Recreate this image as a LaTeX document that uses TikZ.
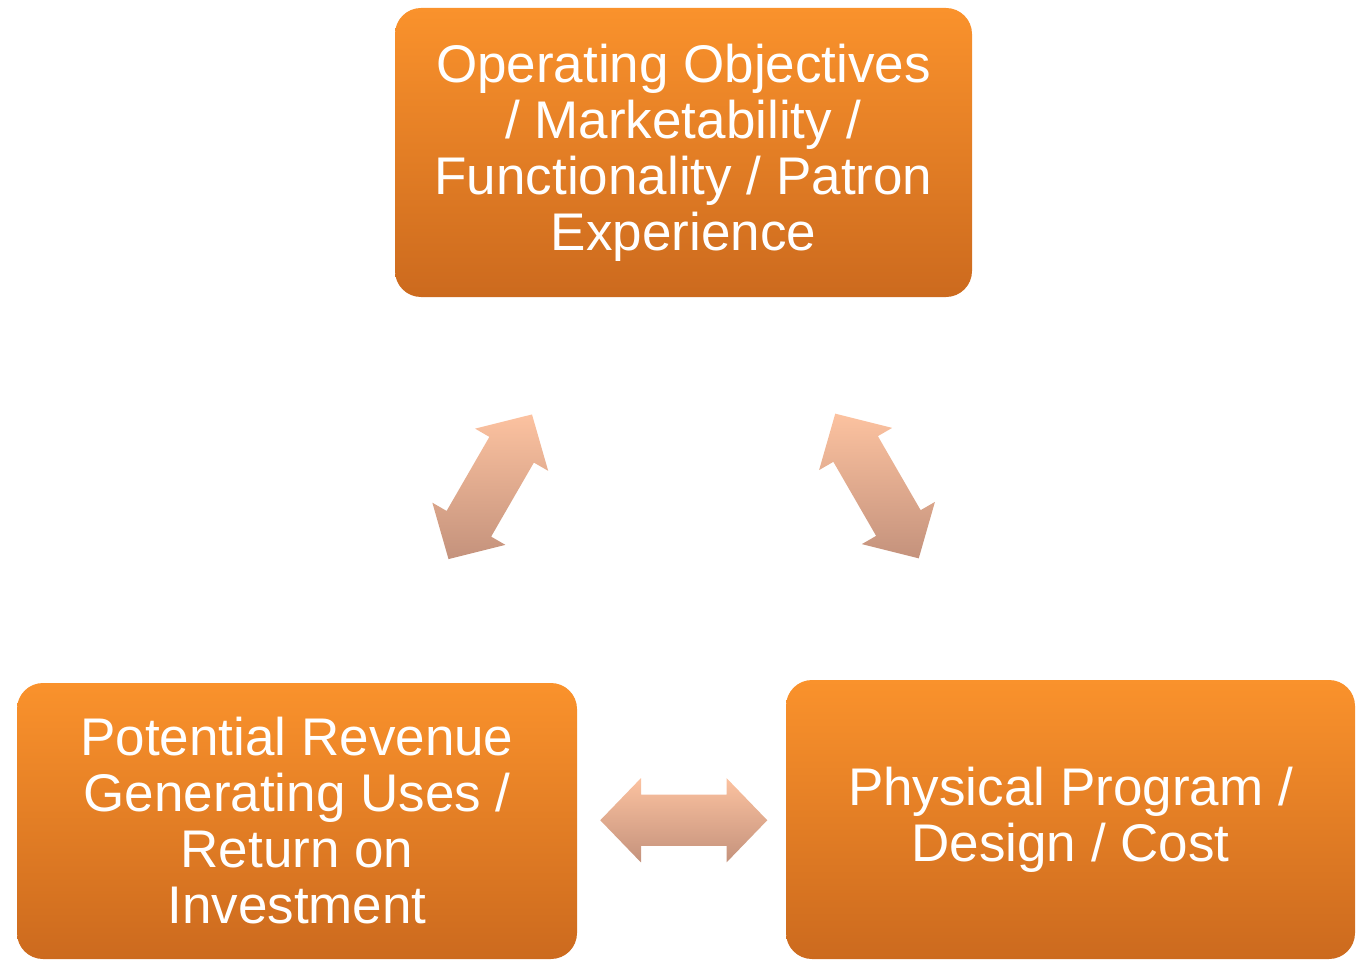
\documentclass[tikz,border=0pt]{standalone}
\usepackage{fontspec}
\setmainfont{Liberation Sans}
\usetikzlibrary{shapes.arrows,calc}
\definecolor{boxtop}{RGB}{250,146,44}
\definecolor{boxbot}{RGB}{204,106,30}
\definecolor{arrtop}{RGB}{252,194,160}
\definecolor{arrbot}{RGB}{196,146,124}
\tikzset{
  goal/.style={rounded corners=26pt, top color=boxtop, bottom color=boxbot,
    text=white, align=center, inner sep=0pt,
    font=\fontsize{53}{56}\selectfont},
  link/.style={double arrow, double arrow tip angle=92,
    double arrow head extend=16.5pt, double arrow head indent=0pt,
    minimum height=167pt, inner xsep=0pt, inner ysep=25.5pt,
    top color=arrtop, bottom color=arrbot}
}
\begin{document}
\begin{tikzpicture}[x=1pt,y=-1pt]
  \useasboundingbox (0,0) rectangle (1362,960);
  % the three boxes
  \node[goal, minimum width=577pt, minimum height=289pt] (operating) at (683.5,152.5)
    {Operating Objectives\\ / Marketability /\\ Functionality / Patron\\ Experience};
  \node[goal, minimum width=560pt, minimum height=276pt] (revenue) at (297,821)
    {Potential Revenue\\ Generating Uses /\\ Return on\\ Investment};
  \node[goal, minimum width=569pt, minimum height=279pt] (program) at (1070.5,819.5)
    {Physical Program /\\ Design / Cost};
  % arrows between them
  \begin{scope}
    \node[link, rotate=60] (revop) at ($(revenue)!0.5!(operating)$) {};
    \node[link, rotate=-60] (opprog) at ($(operating)!0.5!(program)$) {};
    \node[link] (revprog) at ($(revenue)!0.5!(program)$) {};
  \end{scope}
\end{tikzpicture}
\end{document}
